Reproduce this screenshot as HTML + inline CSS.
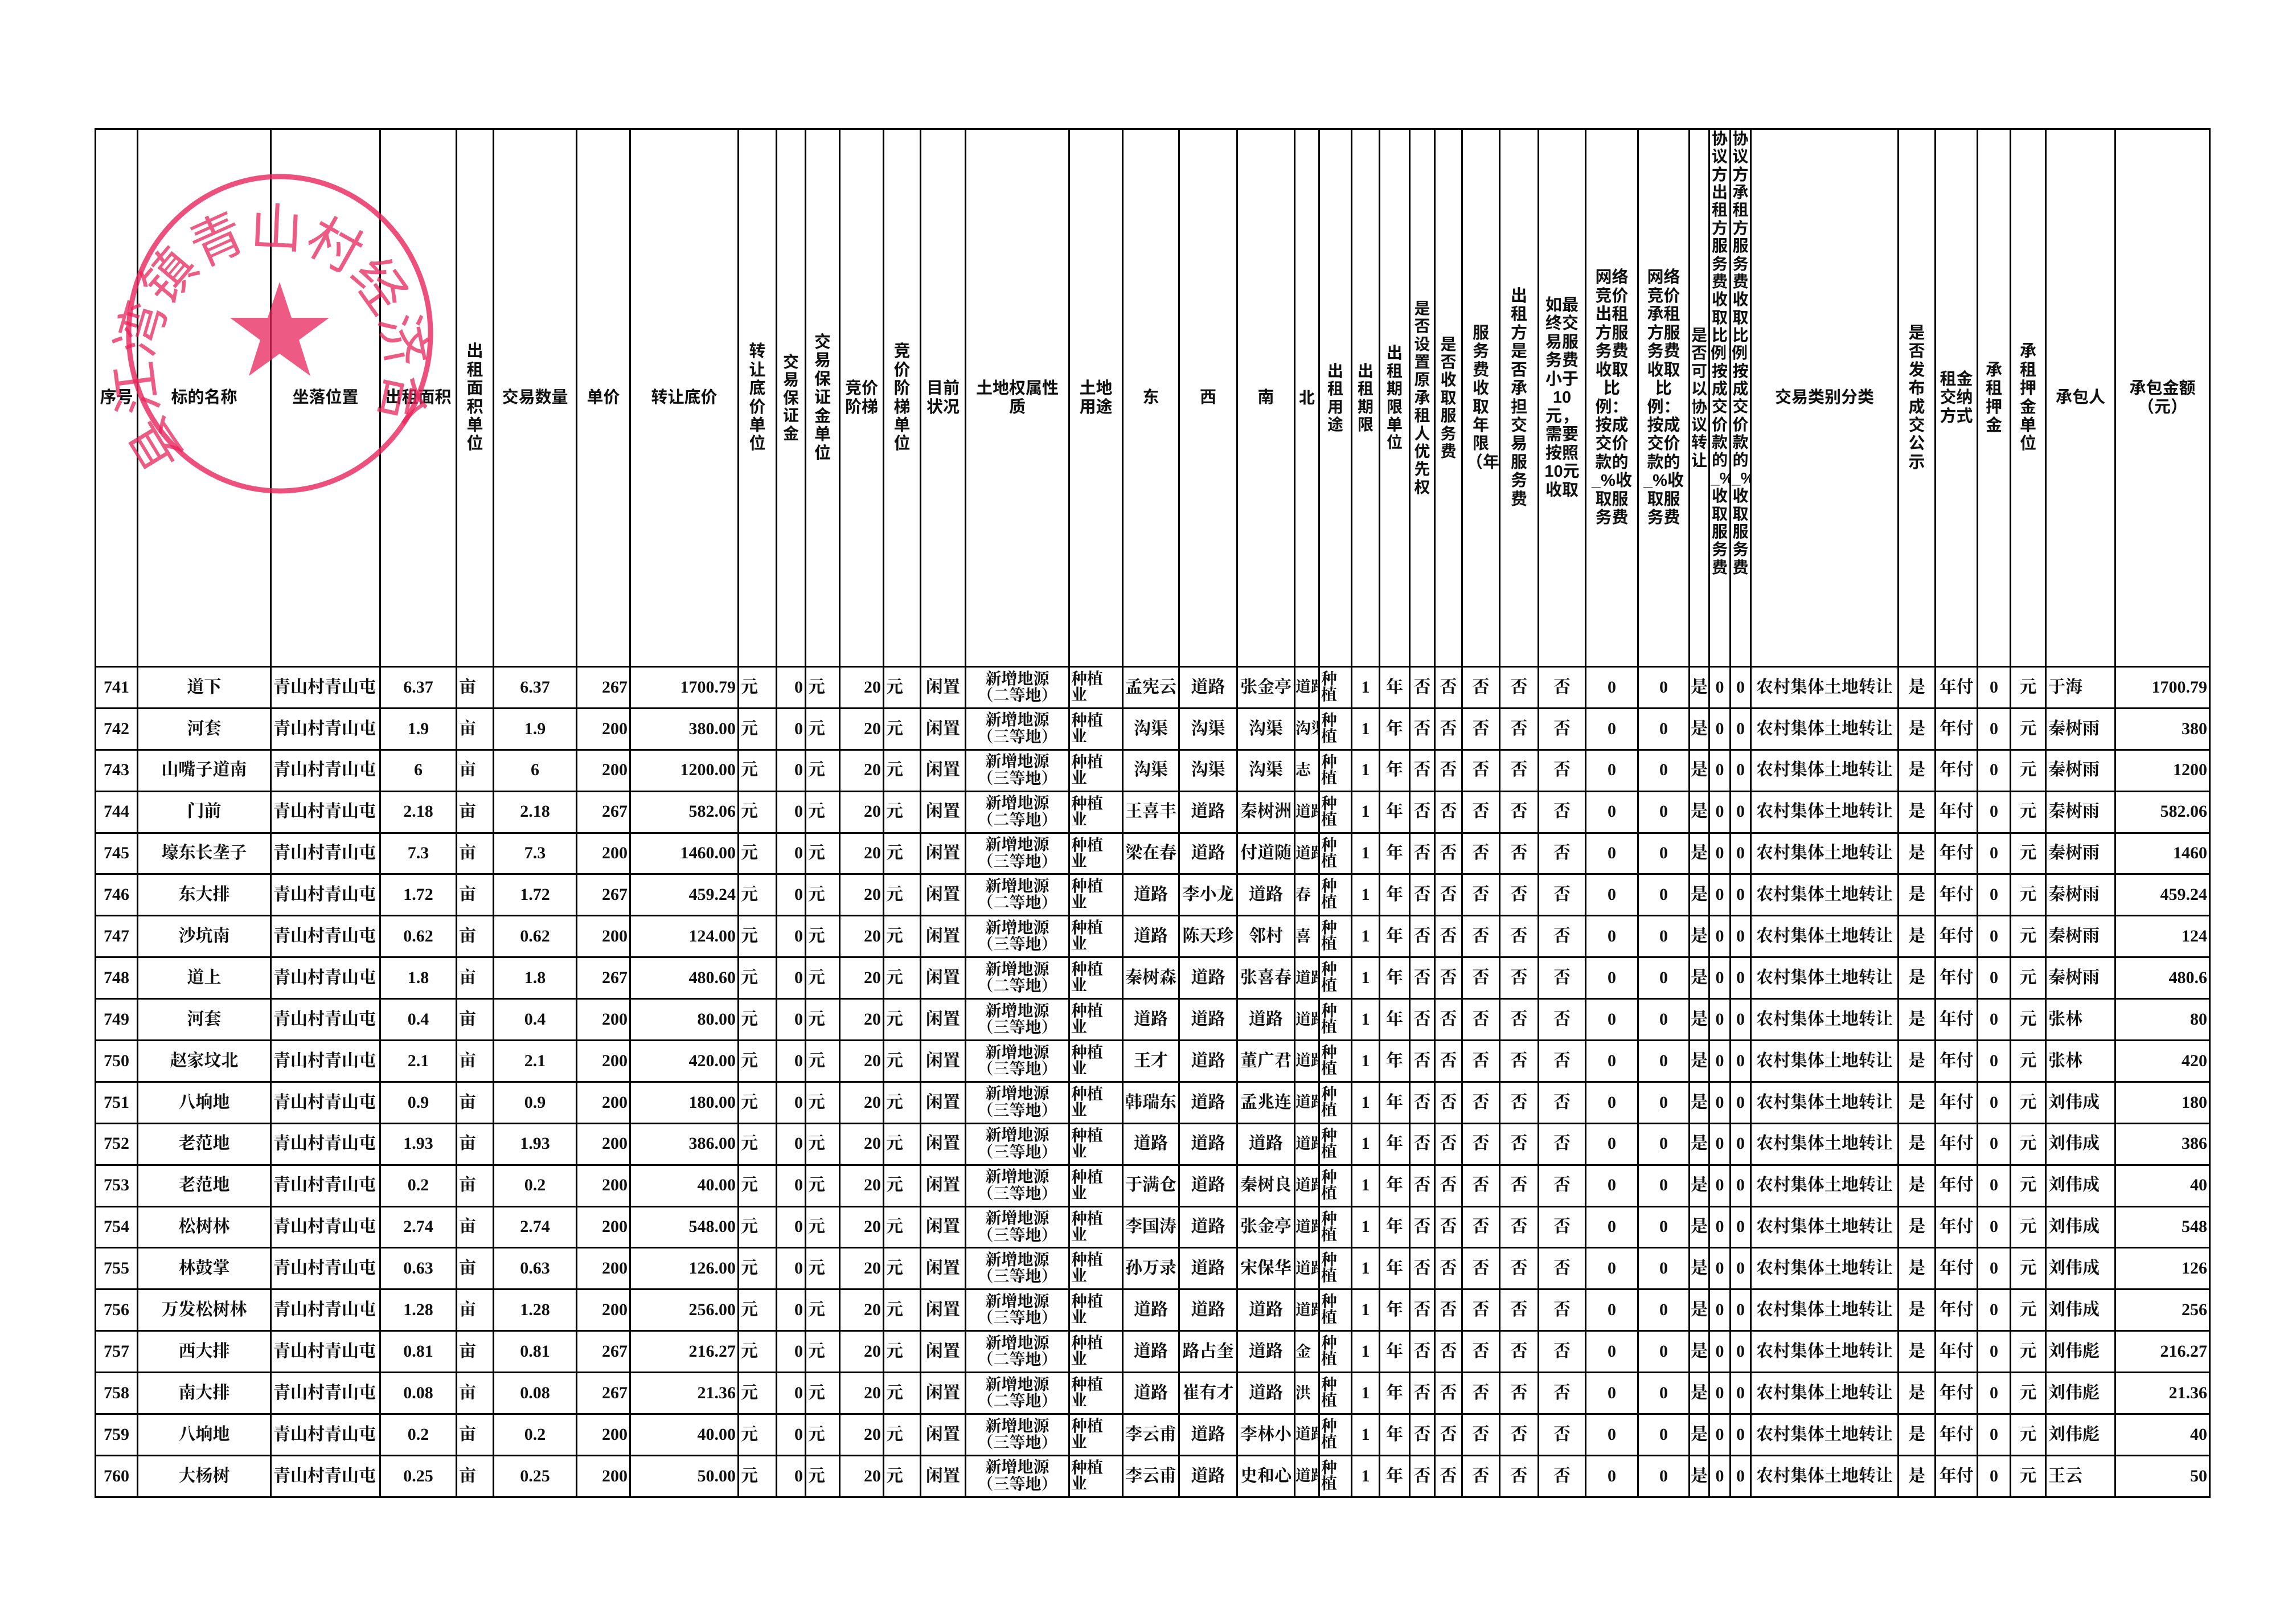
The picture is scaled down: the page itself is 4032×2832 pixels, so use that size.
<!DOCTYPE html>
<html><head><meta charset="utf-8">
<style>
html,body{margin:0;padding:0;background:#fff;}
body{width:4032px;height:2832px;position:relative;overflow:hidden;}
table{position:absolute;left:166px;top:225px;border-collapse:collapse;table-layout:fixed;width:3713px;}
td{border:3px solid #000;padding:0;overflow:hidden;text-align:center;vertical-align:middle;
 font-family:"Liberation Serif","Noto Serif CJK SC",serif;font-weight:700;font-size:30px;color:#111;white-space:nowrap;line-height:1.15;}
tr.h td{font-family:"Liberation Sans","Noto Sans CJK SC",sans-serif;font-size:29px;white-space:normal;padding:0 6px;line-height:1.12;height:941px;}
tr.h td.n{padding:0 1px;font-size:28px;}
tr.d td{height:69.9px;}
tr.d td.r{text-align:right;padding-right:3px;}
tr.d td.l{text-align:left;padding-left:3px;}
tr.d td.t{font-size:28px;line-height:1.05;}
tr.d td.w{text-align:left;font-size:28px;line-height:1.0;padding-left:2px;}
tr.d td.k{text-align:left;font-size:27px;}
svg{position:absolute;left:0;top:0;}
</style></head><body>
<table>
<colgroup>
<col style="width:74px"><col style="width:234px"><col style="width:192px"><col style="width:134px"><col style="width:65px"><col style="width:146px"><col style="width:94px"><col style="width:190px"><col style="width:67px"><col style="width:51px"><col style="width:60px"><col style="width:77px"><col style="width:65px"><col style="width:79px"><col style="width:182px"><col style="width:94px"><col style="width:99px"><col style="width:102px"><col style="width:101px"><col style="width:43px"><col style="width:57px"><col style="width:49px"><col style="width:53px"><col style="width:44px"><col style="width:48px"><col style="width:66px"><col style="width:68px"><col style="width:83px"><col style="width:92px"><col style="width:90px"><col style="width:35px"><col style="width:37px"><col style="width:36px"><col style="width:259px"><col style="width:65px"><col style="width:74px"><col style="width:58px"><col style="width:62px"><col style="width:122px"><col style="width:166px">
</colgroup>
<tr class="h">
<td>序号</td><td>标的名称</td><td>坐落位置</td><td>出租面积</td><td>出租面积单位</td><td>交易数量</td><td>单价</td><td>转让底价</td><td>转让底价单位</td><td class="n">交易保证金</td><td>交易保证金单位</td><td>竞价阶梯</td><td>竞价阶梯单位</td><td>目前状况</td><td>土地权属性质</td><td>土地<br>用途</td><td>东</td><td>西</td><td>南</td><td class="n">北</td><td class="n">出租用途</td><td class="n">出租期限</td><td class="n">出租期限单位</td><td class="n">是否设置原承租人优先权</td><td class="n">是否收取服务费</td><td>服务费收取年限（年）</td><td>出租方是否承担交易服务费</td><td>如最终交易服务费小于10元，需要按照10元收取</td><td>网络竞价出租方服务费收取比例：按成交价款的_%收取服务费</td><td>网络竞价承租方服务费收取比例：按成交价款的_%收取服务费</td><td class="n">是否可以协议转让</td><td class="n" style="vertical-align:top">协议方出租方服务费收取比例：按成交价款的_%收取服务费</td><td class="n" style="vertical-align:top">协议方承租方服务费收取比例：按成交价款的_%收取服务费</td><td>交易类别分类</td><td>是否发布成交公示</td><td>租金交纳方式</td><td>承租押金</td><td>承租押金单位</td><td>承包人</td><td>承包金额（元）</td>
</tr>
<tr class="d"><td>741</td><td>道下</td><td class="l">青山村青山屯</td><td>6.37</td><td class="l">亩</td><td>6.37</td><td class="r">267</td><td class="r">1700.79</td><td class="l">元</td><td class="r">0</td><td class="l">元</td><td class="r">20</td><td class="l">元</td><td>闲置</td><td class="t">新增地源<br>（二等地）</td><td class="w">种植<br>业</td><td>孟宪云</td><td>道路</td><td>张金亭</td><td class="k">道路</td><td class="w">种<br>植</td><td>1</td><td>年</td><td>否</td><td>否</td><td>否</td><td>否</td><td>否</td><td>0</td><td>0</td><td>是</td><td>0</td><td>0</td><td>农村集体土地转让</td><td>是</td><td>年付</td><td>0</td><td>元</td><td class="l">于海</td><td class="r">1700.79</td></tr>
<tr class="d"><td>742</td><td>河套</td><td class="l">青山村青山屯</td><td>1.9</td><td class="l">亩</td><td>1.9</td><td class="r">200</td><td class="r">380.00</td><td class="l">元</td><td class="r">0</td><td class="l">元</td><td class="r">20</td><td class="l">元</td><td>闲置</td><td class="t">新增地源<br>（三等地）</td><td class="w">种植<br>业</td><td>沟渠</td><td>沟渠</td><td>沟渠</td><td class="k">沟渠</td><td class="w">种<br>植</td><td>1</td><td>年</td><td>否</td><td>否</td><td>否</td><td>否</td><td>否</td><td>0</td><td>0</td><td>是</td><td>0</td><td>0</td><td>农村集体土地转让</td><td>是</td><td>年付</td><td>0</td><td>元</td><td class="l">秦树雨</td><td class="r">380</td></tr>
<tr class="d"><td>743</td><td>山嘴子道南</td><td class="l">青山村青山屯</td><td>6</td><td class="l">亩</td><td>6</td><td class="r">200</td><td class="r">1200.00</td><td class="l">元</td><td class="r">0</td><td class="l">元</td><td class="r">20</td><td class="l">元</td><td>闲置</td><td class="t">新增地源<br>（三等地）</td><td class="w">种植<br>业</td><td>沟渠</td><td>沟渠</td><td>沟渠</td><td class="k">志</td><td class="w">种<br>植</td><td>1</td><td>年</td><td>否</td><td>否</td><td>否</td><td>否</td><td>否</td><td>0</td><td>0</td><td>是</td><td>0</td><td>0</td><td>农村集体土地转让</td><td>是</td><td>年付</td><td>0</td><td>元</td><td class="l">秦树雨</td><td class="r">1200</td></tr>
<tr class="d"><td>744</td><td>门前</td><td class="l">青山村青山屯</td><td>2.18</td><td class="l">亩</td><td>2.18</td><td class="r">267</td><td class="r">582.06</td><td class="l">元</td><td class="r">0</td><td class="l">元</td><td class="r">20</td><td class="l">元</td><td>闲置</td><td class="t">新增地源<br>（二等地）</td><td class="w">种植<br>业</td><td>王喜丰</td><td>道路</td><td>秦树洲</td><td class="k">道路</td><td class="w">种<br>植</td><td>1</td><td>年</td><td>否</td><td>否</td><td>否</td><td>否</td><td>否</td><td>0</td><td>0</td><td>是</td><td>0</td><td>0</td><td>农村集体土地转让</td><td>是</td><td>年付</td><td>0</td><td>元</td><td class="l">秦树雨</td><td class="r">582.06</td></tr>
<tr class="d"><td>745</td><td>壕东长垄子</td><td class="l">青山村青山屯</td><td>7.3</td><td class="l">亩</td><td>7.3</td><td class="r">200</td><td class="r">1460.00</td><td class="l">元</td><td class="r">0</td><td class="l">元</td><td class="r">20</td><td class="l">元</td><td>闲置</td><td class="t">新增地源<br>（三等地）</td><td class="w">种植<br>业</td><td>梁在春</td><td>道路</td><td>付道随</td><td class="k">道路</td><td class="w">种<br>植</td><td>1</td><td>年</td><td>否</td><td>否</td><td>否</td><td>否</td><td>否</td><td>0</td><td>0</td><td>是</td><td>0</td><td>0</td><td>农村集体土地转让</td><td>是</td><td>年付</td><td>0</td><td>元</td><td class="l">秦树雨</td><td class="r">1460</td></tr>
<tr class="d"><td>746</td><td>东大排</td><td class="l">青山村青山屯</td><td>1.72</td><td class="l">亩</td><td>1.72</td><td class="r">267</td><td class="r">459.24</td><td class="l">元</td><td class="r">0</td><td class="l">元</td><td class="r">20</td><td class="l">元</td><td>闲置</td><td class="t">新增地源<br>（二等地）</td><td class="w">种植<br>业</td><td>道路</td><td>李小龙</td><td>道路</td><td class="k">春</td><td class="w">种<br>植</td><td>1</td><td>年</td><td>否</td><td>否</td><td>否</td><td>否</td><td>否</td><td>0</td><td>0</td><td>是</td><td>0</td><td>0</td><td>农村集体土地转让</td><td>是</td><td>年付</td><td>0</td><td>元</td><td class="l">秦树雨</td><td class="r">459.24</td></tr>
<tr class="d"><td>747</td><td>沙坑南</td><td class="l">青山村青山屯</td><td>0.62</td><td class="l">亩</td><td>0.62</td><td class="r">200</td><td class="r">124.00</td><td class="l">元</td><td class="r">0</td><td class="l">元</td><td class="r">20</td><td class="l">元</td><td>闲置</td><td class="t">新增地源<br>（三等地）</td><td class="w">种植<br>业</td><td>道路</td><td>陈天珍</td><td>邻村</td><td class="k">喜</td><td class="w">种<br>植</td><td>1</td><td>年</td><td>否</td><td>否</td><td>否</td><td>否</td><td>否</td><td>0</td><td>0</td><td>是</td><td>0</td><td>0</td><td>农村集体土地转让</td><td>是</td><td>年付</td><td>0</td><td>元</td><td class="l">秦树雨</td><td class="r">124</td></tr>
<tr class="d"><td>748</td><td>道上</td><td class="l">青山村青山屯</td><td>1.8</td><td class="l">亩</td><td>1.8</td><td class="r">267</td><td class="r">480.60</td><td class="l">元</td><td class="r">0</td><td class="l">元</td><td class="r">20</td><td class="l">元</td><td>闲置</td><td class="t">新增地源<br>（二等地）</td><td class="w">种植<br>业</td><td>秦树森</td><td>道路</td><td>张喜春</td><td class="k">道路</td><td class="w">种<br>植</td><td>1</td><td>年</td><td>否</td><td>否</td><td>否</td><td>否</td><td>否</td><td>0</td><td>0</td><td>是</td><td>0</td><td>0</td><td>农村集体土地转让</td><td>是</td><td>年付</td><td>0</td><td>元</td><td class="l">秦树雨</td><td class="r">480.6</td></tr>
<tr class="d"><td>749</td><td>河套</td><td class="l">青山村青山屯</td><td>0.4</td><td class="l">亩</td><td>0.4</td><td class="r">200</td><td class="r">80.00</td><td class="l">元</td><td class="r">0</td><td class="l">元</td><td class="r">20</td><td class="l">元</td><td>闲置</td><td class="t">新增地源<br>（三等地）</td><td class="w">种植<br>业</td><td>道路</td><td>道路</td><td>道路</td><td class="k">道路</td><td class="w">种<br>植</td><td>1</td><td>年</td><td>否</td><td>否</td><td>否</td><td>否</td><td>否</td><td>0</td><td>0</td><td>是</td><td>0</td><td>0</td><td>农村集体土地转让</td><td>是</td><td>年付</td><td>0</td><td>元</td><td class="l">张林</td><td class="r">80</td></tr>
<tr class="d"><td>750</td><td>赵家坟北</td><td class="l">青山村青山屯</td><td>2.1</td><td class="l">亩</td><td>2.1</td><td class="r">200</td><td class="r">420.00</td><td class="l">元</td><td class="r">0</td><td class="l">元</td><td class="r">20</td><td class="l">元</td><td>闲置</td><td class="t">新增地源<br>（三等地）</td><td class="w">种植<br>业</td><td>王才</td><td>道路</td><td>董广君</td><td class="k">道路</td><td class="w">种<br>植</td><td>1</td><td>年</td><td>否</td><td>否</td><td>否</td><td>否</td><td>否</td><td>0</td><td>0</td><td>是</td><td>0</td><td>0</td><td>农村集体土地转让</td><td>是</td><td>年付</td><td>0</td><td>元</td><td class="l">张林</td><td class="r">420</td></tr>
<tr class="d"><td>751</td><td>八垧地</td><td class="l">青山村青山屯</td><td>0.9</td><td class="l">亩</td><td>0.9</td><td class="r">200</td><td class="r">180.00</td><td class="l">元</td><td class="r">0</td><td class="l">元</td><td class="r">20</td><td class="l">元</td><td>闲置</td><td class="t">新增地源<br>（三等地）</td><td class="w">种植<br>业</td><td>韩瑞东</td><td>道路</td><td>孟兆连</td><td class="k">道路</td><td class="w">种<br>植</td><td>1</td><td>年</td><td>否</td><td>否</td><td>否</td><td>否</td><td>否</td><td>0</td><td>0</td><td>是</td><td>0</td><td>0</td><td>农村集体土地转让</td><td>是</td><td>年付</td><td>0</td><td>元</td><td class="l">刘伟成</td><td class="r">180</td></tr>
<tr class="d"><td>752</td><td>老范地</td><td class="l">青山村青山屯</td><td>1.93</td><td class="l">亩</td><td>1.93</td><td class="r">200</td><td class="r">386.00</td><td class="l">元</td><td class="r">0</td><td class="l">元</td><td class="r">20</td><td class="l">元</td><td>闲置</td><td class="t">新增地源<br>（三等地）</td><td class="w">种植<br>业</td><td>道路</td><td>道路</td><td>道路</td><td class="k">道路</td><td class="w">种<br>植</td><td>1</td><td>年</td><td>否</td><td>否</td><td>否</td><td>否</td><td>否</td><td>0</td><td>0</td><td>是</td><td>0</td><td>0</td><td>农村集体土地转让</td><td>是</td><td>年付</td><td>0</td><td>元</td><td class="l">刘伟成</td><td class="r">386</td></tr>
<tr class="d"><td>753</td><td>老范地</td><td class="l">青山村青山屯</td><td>0.2</td><td class="l">亩</td><td>0.2</td><td class="r">200</td><td class="r">40.00</td><td class="l">元</td><td class="r">0</td><td class="l">元</td><td class="r">20</td><td class="l">元</td><td>闲置</td><td class="t">新增地源<br>（三等地）</td><td class="w">种植<br>业</td><td>于满仓</td><td>道路</td><td>秦树良</td><td class="k">道路</td><td class="w">种<br>植</td><td>1</td><td>年</td><td>否</td><td>否</td><td>否</td><td>否</td><td>否</td><td>0</td><td>0</td><td>是</td><td>0</td><td>0</td><td>农村集体土地转让</td><td>是</td><td>年付</td><td>0</td><td>元</td><td class="l">刘伟成</td><td class="r">40</td></tr>
<tr class="d"><td>754</td><td>松树林</td><td class="l">青山村青山屯</td><td>2.74</td><td class="l">亩</td><td>2.74</td><td class="r">200</td><td class="r">548.00</td><td class="l">元</td><td class="r">0</td><td class="l">元</td><td class="r">20</td><td class="l">元</td><td>闲置</td><td class="t">新增地源<br>（三等地）</td><td class="w">种植<br>业</td><td>李国涛</td><td>道路</td><td>张金亭</td><td class="k">道路</td><td class="w">种<br>植</td><td>1</td><td>年</td><td>否</td><td>否</td><td>否</td><td>否</td><td>否</td><td>0</td><td>0</td><td>是</td><td>0</td><td>0</td><td>农村集体土地转让</td><td>是</td><td>年付</td><td>0</td><td>元</td><td class="l">刘伟成</td><td class="r">548</td></tr>
<tr class="d"><td>755</td><td>林鼓掌</td><td class="l">青山村青山屯</td><td>0.63</td><td class="l">亩</td><td>0.63</td><td class="r">200</td><td class="r">126.00</td><td class="l">元</td><td class="r">0</td><td class="l">元</td><td class="r">20</td><td class="l">元</td><td>闲置</td><td class="t">新增地源<br>（三等地）</td><td class="w">种植<br>业</td><td>孙万录</td><td>道路</td><td>宋保华</td><td class="k">道路</td><td class="w">种<br>植</td><td>1</td><td>年</td><td>否</td><td>否</td><td>否</td><td>否</td><td>否</td><td>0</td><td>0</td><td>是</td><td>0</td><td>0</td><td>农村集体土地转让</td><td>是</td><td>年付</td><td>0</td><td>元</td><td class="l">刘伟成</td><td class="r">126</td></tr>
<tr class="d"><td>756</td><td>万发松树林</td><td class="l">青山村青山屯</td><td>1.28</td><td class="l">亩</td><td>1.28</td><td class="r">200</td><td class="r">256.00</td><td class="l">元</td><td class="r">0</td><td class="l">元</td><td class="r">20</td><td class="l">元</td><td>闲置</td><td class="t">新增地源<br>（三等地）</td><td class="w">种植<br>业</td><td>道路</td><td>道路</td><td>道路</td><td class="k">道路</td><td class="w">种<br>植</td><td>1</td><td>年</td><td>否</td><td>否</td><td>否</td><td>否</td><td>否</td><td>0</td><td>0</td><td>是</td><td>0</td><td>0</td><td>农村集体土地转让</td><td>是</td><td>年付</td><td>0</td><td>元</td><td class="l">刘伟成</td><td class="r">256</td></tr>
<tr class="d"><td>757</td><td>西大排</td><td class="l">青山村青山屯</td><td>0.81</td><td class="l">亩</td><td>0.81</td><td class="r">267</td><td class="r">216.27</td><td class="l">元</td><td class="r">0</td><td class="l">元</td><td class="r">20</td><td class="l">元</td><td>闲置</td><td class="t">新增地源<br>（二等地）</td><td class="w">种植<br>业</td><td>道路</td><td>路占奎</td><td>道路</td><td class="k">金</td><td class="w">种<br>植</td><td>1</td><td>年</td><td>否</td><td>否</td><td>否</td><td>否</td><td>否</td><td>0</td><td>0</td><td>是</td><td>0</td><td>0</td><td>农村集体土地转让</td><td>是</td><td>年付</td><td>0</td><td>元</td><td class="l">刘伟彪</td><td class="r">216.27</td></tr>
<tr class="d"><td>758</td><td>南大排</td><td class="l">青山村青山屯</td><td>0.08</td><td class="l">亩</td><td>0.08</td><td class="r">267</td><td class="r">21.36</td><td class="l">元</td><td class="r">0</td><td class="l">元</td><td class="r">20</td><td class="l">元</td><td>闲置</td><td class="t">新增地源<br>（二等地）</td><td class="w">种植<br>业</td><td>道路</td><td>崔有才</td><td>道路</td><td class="k">洪</td><td class="w">种<br>植</td><td>1</td><td>年</td><td>否</td><td>否</td><td>否</td><td>否</td><td>否</td><td>0</td><td>0</td><td>是</td><td>0</td><td>0</td><td>农村集体土地转让</td><td>是</td><td>年付</td><td>0</td><td>元</td><td class="l">刘伟彪</td><td class="r">21.36</td></tr>
<tr class="d"><td>759</td><td>八垧地</td><td class="l">青山村青山屯</td><td>0.2</td><td class="l">亩</td><td>0.2</td><td class="r">200</td><td class="r">40.00</td><td class="l">元</td><td class="r">0</td><td class="l">元</td><td class="r">20</td><td class="l">元</td><td>闲置</td><td class="t">新增地源<br>（三等地）</td><td class="w">种植<br>业</td><td>李云甫</td><td>道路</td><td>李林小</td><td class="k">道路</td><td class="w">种<br>植</td><td>1</td><td>年</td><td>否</td><td>否</td><td>否</td><td>否</td><td>否</td><td>0</td><td>0</td><td>是</td><td>0</td><td>0</td><td>农村集体土地转让</td><td>是</td><td>年付</td><td>0</td><td>元</td><td class="l">刘伟彪</td><td class="r">40</td></tr>
<tr class="d"><td>760</td><td>大杨树</td><td class="l">青山村青山屯</td><td>0.25</td><td class="l">亩</td><td>0.25</td><td class="r">200</td><td class="r">50.00</td><td class="l">元</td><td class="r">0</td><td class="l">元</td><td class="r">20</td><td class="l">元</td><td>闲置</td><td class="t">新增地源<br>（三等地）</td><td class="w">种植<br>业</td><td>李云甫</td><td>道路</td><td>史和心</td><td class="k">道路</td><td class="w">种<br>植</td><td>1</td><td>年</td><td>否</td><td>否</td><td>否</td><td>否</td><td>否</td><td>0</td><td>0</td><td>是</td><td>0</td><td>0</td><td>农村集体土地转让</td><td>是</td><td>年付</td><td>0</td><td>元</td><td class="l">王云</td><td class="r">50</td></tr>
</table>
<svg width="4032" height="2832" viewBox="0 0 4032 2832">
<defs><path id="arc" d="M 330 800 A 205 215 0 1 1 650 760"/></defs>
<g opacity="0.8" fill="none" stroke="#e8245c">
<ellipse cx="491" cy="586" rx="265" ry="276" stroke-width="9"/>
</g>
<g opacity="0.75" fill="#e8245c">
<polygon points="491,495 512,558 578,558 525,597 545,660 491,621 437,660 457,597 404,558 470,558"/>
<text font-family="Liberation Sans,Noto Sans CJK SC,sans-serif" font-size="92" font-weight="400"><textPath href="#arc">县江湾镇青山村经济合作社</textPath></text>
</g>
</svg>
</body></html>
